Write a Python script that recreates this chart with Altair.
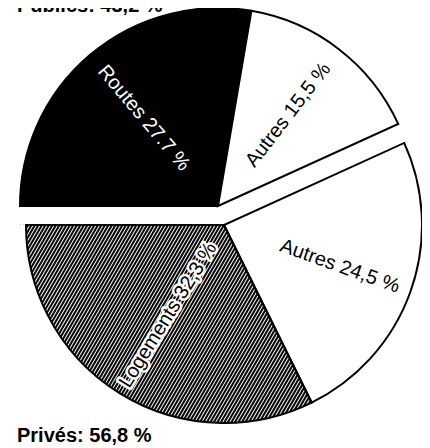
import math
import altair as alt
import pandas as pd

# ---- data ----
categories = ["Routes", "Autres", "Autres", "Logements"]
groups = ["Publics", "Publics", "Privés", "Privés"]
values = [27.7, 15.5, 24.5, 32.3]
labels = ["Routes 27.7 %", "Autres 15,5 %", "Autres 24,5 %", "Logements 32,3 %"]
group_titles = ["Publics: 43,2 %", "Privés: 56,8 %"]

df = pd.DataFrame({
    "order": list(range(len(values))),
    "cat": categories,
    "grp": groups,
    "v": values,
    "label": labels,
})
titles_df = pd.DataFrame({"i": [0, 1], "t": group_titles})

# ---- styling ----
FONT = "Liberation Sans"
FS = 20
R = 198
UX, UY = 210, 198   # centre of the "Publics" half (plot coords)
LX, LY = 216, 217   # centre of the "Privés" half

theta_scale = alt.Scale(domain=[0, 100], range=[1.5 * math.pi, 3.5 * math.pi])

# hatching lines (decoration): parallel rules, masked outside the wedge
PERIOD = 3.5                # horizontal spacing (px)
SLOPE = 1.714               # dy/dx of the hatch lines
HH = R + 4                  # vertical extent of the hatch band
SHIFT = (HH / SLOPE) / PERIOD   # horizontal run of one line, in spacing units
N_LINES = int((2 * R + HH / SLOPE + 10) / PERIOD) + 2
X0 = LX - R - HH / SLOPE - 5
hatch_df = pd.DataFrame({"i": list(range(N_LINES))})

hatch = (
    alt.Chart(hatch_df)
    .transform_calculate(xt="datum.i + %f" % SHIFT, yb="1", yt="0")
    .mark_rule(color="#0a0a0a", strokeWidth=2.1, strokeCap="butt")
    .encode(
        x=alt.X("i:Q", axis=None,
                scale=alt.Scale(domain=[0, N_LINES], range=[X0, X0 + N_LINES * PERIOD], nice=False, zero=False)),
        x2="xt:Q",
        y=alt.Y("yb:Q", axis=None, scale=alt.Scale(domain=[0, 1], range=[LY, LY + HH], nice=False)),
        y2="yt:Q",
    )
)
mask = alt.Chart(pd.DataFrame({"m": [0]})).mark_arc(
    theta=math.pi / 2, theta2=3 * math.pi / 2, innerRadius=R, outerRadius=2.3 * R,
    fill="white", stroke=None,
).encode(x=alt.value(LX), y=alt.value(LY))

base = (
    alt.Chart(df)
    .transform_window(end="sum(v)", sort=[{"field": "order"}], frame=[None, 0])
    .transform_calculate(start="datum.end - datum.v", mid="datum.end - datum.v / 2")
    .transform_calculate(a0="((270 + 3.6 * datum.mid) % 360) - 90")
    .transform_calculate(rot="datum.a0 > 90 ? datum.a0 - 180 : datum.a0")
)

pub = base.transform_filter("datum.grp == 'Publics'")
pri = base.transform_filter("datum.grp == 'Privés'")
logt = pri.transform_filter("datum.cat == 'Logements'")
autp = pri.transform_filter("datum.cat == 'Autres'")

arc_enc = dict(
    theta=alt.Theta("start:Q", scale=theta_scale, stack=None),
    theta2="end:Q",
)
txt_enc = dict(
    theta=alt.Theta("mid:Q", scale=theta_scale, stack=None),
    angle=alt.Angle("rot:Q", scale=None),
    text="label:N",
)

upper_arc = pub.mark_arc(outerRadius=R, stroke="black", strokeWidth=2, strokeJoin="miter").encode(
    x=alt.value(UX), y=alt.value(UY),
    fill=alt.condition("datum.cat == 'Routes'", alt.value("black"), alt.value("white")),
    **arc_enc,
)
lower_arc = pri.mark_arc(outerRadius=R, stroke="black", strokeWidth=2, strokeJoin="miter").encode(
    x=alt.value(LX), y=alt.value(LY),
    fill=alt.condition("datum.cat == 'Logements'", alt.value("transparent"), alt.value("white")),
    **arc_enc,
)

upper_txt = pub.mark_text(font=FONT, fontSize=FS).encode(
    x=alt.value(UX), y=alt.value(UY),
    radius=alt.value(115),
    color=alt.condition("datum.cat == 'Routes'", alt.value("white"), alt.value("black")),
    **txt_enc,
)
log_halo = logt.mark_text(font=FONT, fontSize=FS, stroke="white", strokeWidth=5, fill="white",
                          strokeJoin="round").encode(
    x=alt.value(LX), y=alt.value(LY), radius=alt.value(106), **txt_enc,
)
log_txt = logt.mark_text(font=FONT, fontSize=FS, color="black").encode(
    x=alt.value(LX), y=alt.value(LY), radius=alt.value(106), **txt_enc,
)
aut_txt = autp.mark_text(font=FONT, fontSize=FS, color="black").encode(
    x=alt.value(LX), y=alt.value(LY), radius=alt.value(123), **txt_enc,
)

title_pub = alt.Chart(titles_df).transform_filter("datum.i == 0").mark_text(
    font=FONT, fontSize=20, fontWeight="bold", align="left", baseline="alphabetic"
).encode(x=alt.value(9), y=alt.value(4), text="t:N")
title_pri = alt.Chart(titles_df).transform_filter("datum.i == 1").mark_text(
    font=FONT, fontSize=20, fontWeight="bold", align="left", baseline="alphabetic"
).encode(x=alt.value(9), y=alt.value(434), text="t:N")

chart = (
    alt.layer(hatch, mask, upper_arc, lower_arc, upper_txt, log_halo, log_txt, aut_txt,
              title_pub, title_pri)
    .properties(width=414, height=440, autosize=alt.AutoSizeParams(type="none"), padding=0)
    .configure_view(stroke=None)
)

chart.save("out.html", embed_options={"renderer": "svg", "actions": False})
